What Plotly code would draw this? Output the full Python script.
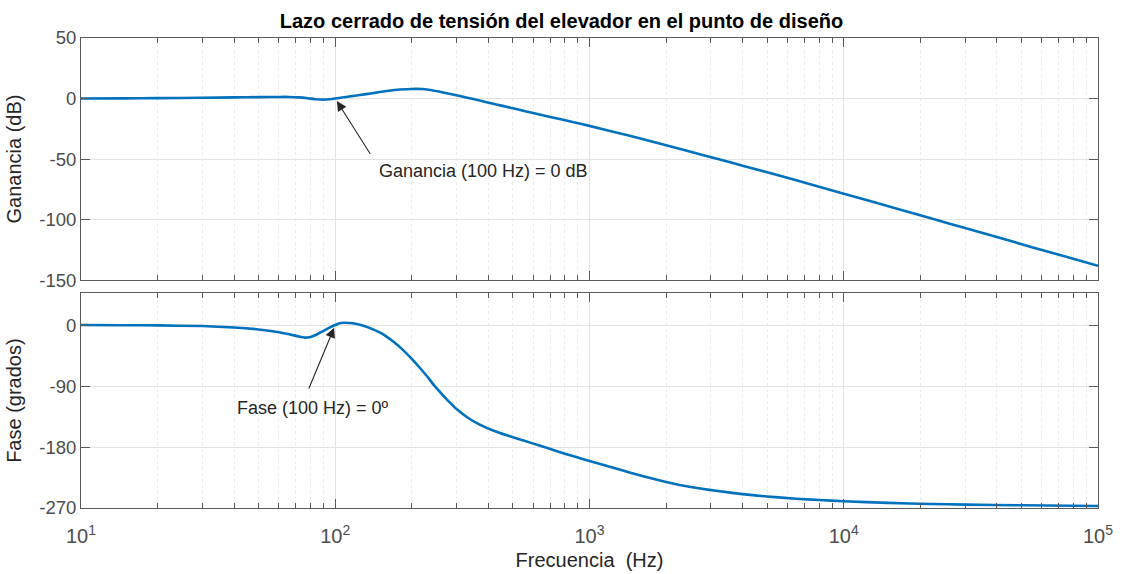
import numpy as np
import plotly.graph_objects as go

# Closed-loop voltage response of the boost converter at the design point
freq_hz = [10, 15, 20, 30, 40, 50, 60, 66, 72, 78, 84, 90, 95, 100, 110, 125, 140, 160,
           180, 200, 220, 240, 260, 290, 330, 370, 410, 460, 520, 600, 700, 850, 1000,
           1250, 1600, 2000, 2500, 3200, 4000, 5000, 6300, 8000, 10000, 13000, 17000,
           22000, 30000, 40000, 55000, 75000, 100000]
gain_db = [0.0, 0.15, 0.3, 0.6, 0.9, 1.15, 1.3, 1.3, 0.9, 0.2, -0.6, -0.95, -0.6, 0.0,
           1.2, 2.9, 4.4, 6.2, 7.4, 7.9, 7.8, 6.9, 5.4, 3.3, 0.7, -1.7, -3.9, -6.3, -8.9,
           -12.0, -15.2, -19.2, -22.6, -27.6, -33.3, -38.6, -44.0, -50.0, -55.5, -61.0,
           -66.8, -72.9, -78.6, -85.4, -92.3, -99.0, -107.0, -114.5, -122.8, -130.8, -138.2]

phase_freq_hz = [10, 15, 20, 30, 40, 50, 60, 66, 72, 76, 80, 85, 90, 95, 100, 104, 108,
                 114, 120, 130, 140, 155, 170, 185, 200, 215, 230, 245, 260, 280, 300,
                 330, 370, 420, 480, 550, 640, 750, 880, 1000, 1250, 1600, 2000, 2500,
                 3200, 4000, 5000, 6500, 8000, 10000, 15000, 22000, 30000, 50000, 100000]
phase_deg = [0.0, -0.2, -0.5, -1.5, -3.5, -6.5, -10.5, -13.5, -17.0, -18.5, -17.5, -13.5,
             -8.5, -3.8, 0.0, 2.5, 3.4, 3.0, 1.8, -1.5, -6.0, -14.0, -25.0, -37.0, -50.0,
             -63.0, -76.0, -89.0, -100.0, -113.0, -124.0, -136.0, -147.0, -156.0, -163.5,
             -170.5, -178.0, -186.5, -194.5, -200.5, -211.0, -222.5, -231.5, -239.0,
             -245.0, -249.5, -253.0, -256.3, -258.3, -260.0, -262.5, -264.0, -265.0,
             -266.0, -267.0]

decades = [10, 100, 1000, 10000, 100000]
decade_labels = ["10<sup>1</sup>", "10<sup>2</sup>", "10<sup>3</sup>", "10<sup>4</sup>", "10<sup>5</sup>"]
minor_vals = [m * d for d in decades[:-1] for m in range(2, 10)]

gain_ticks = [50, 0, -50, -100, -150]
gain_tick_text = ["50", "0", "-50", "-100", "-150"]
phase_ticks = [0, -90, -180, -270]
phase_tick_text = ["0", "-90", "-180", "-270"]

marker_freq = 100
marker_gain = 0
marker_phase = 0

LINE = "#0072BD"
AXIS = "#5a5a5a"
GRID = "#e3e3e3"
MINOR_GRID = "#ececec"
TICK_TXT = "#4d4d4d"
LABEL_TXT = "#262626"
FONT = "Liberation Sans, Arial, sans-serif"

fig = go.Figure()
fig.add_trace(go.Scatter(x=freq_hz, y=gain_db, mode="lines",
                         line=dict(color=LINE, width=2.6, shape="spline", smoothing=0.5),
                         xaxis="x", yaxis="y", showlegend=False))
fig.add_trace(go.Scatter(x=phase_freq_hz, y=phase_deg, mode="lines",
                         line=dict(color=LINE, width=2.6, shape="spline", smoothing=0.5),
                         xaxis="x2", yaxis="y2", showlegend=False))

def xaxis_style(show_labels, anchor):
    return dict(
        type="log", range=[1, 5], anchor=anchor, automargin=False,
        tickmode="array", tickvals=decades, ticktext=decade_labels if show_labels else [""] * 5,
        showticklabels=show_labels, ticklabelstandoff=10,
        ticks="inside", ticklen=9, tickcolor=AXIS, tickwidth=1,
        showline=True, linecolor=AXIS, linewidth=1, mirror="ticks",
        showgrid=True, gridcolor=GRID, gridwidth=1, zeroline=False,
        tickfont=dict(family=FONT, size=20, color=TICK_TXT),
        minor=dict(tickmode="array", tickvals=minor_vals, ticks="inside", ticklen=5,
                   tickcolor=AXIS, tickwidth=1, showgrid=True, gridcolor=MINOR_GRID,
                   griddash="dot", gridwidth=1),
    )

def yaxis_style(rng, ticks, labels, domain, anchor, title):
    return dict(
        range=rng, domain=domain, anchor=anchor, automargin=False,
        tickmode="array", tickvals=ticks, ticktext=labels,
        ticks="inside", ticklen=9, tickcolor=AXIS, tickwidth=1,
        showline=True, linecolor=AXIS, linewidth=1, mirror="ticks",
        showgrid=True, gridcolor=GRID, gridwidth=1, zeroline=False,
        tickfont=dict(family=FONT, size=18.5, color=TICK_TXT),
        title=dict(text=title, font=dict(family=FONT, size=20, color=LABEL_TXT), standoff=12),
    )

fig.update_layout(
    width=1123, height=574,
    margin=dict(l=81, r=25, t=38, b=66),
    paper_bgcolor="white", plot_bgcolor="white",
    font=dict(family=FONT),
    title=dict(text="<b>Lazo cerrado de tensión del elevador en el punto de diseño</b>",
               x=0.5, xanchor="center", y=0.963, yanchor="middle",
               font=dict(family=FONT, size=20, color="#000000")),
    xaxis=xaxis_style(False, "y"),
    xaxis2=dict(**xaxis_style(True, "y2"),
                title=dict(text="Frecuencia  (Hz)", font=dict(family=FONT, size=20, color=LABEL_TXT), standoff=6)),
    yaxis=yaxis_style([-150, 50], gain_ticks, gain_tick_text, [0.485, 1.0], "x", "Ganancia (dB)"),
    yaxis2=yaxis_style([-270, 47], phase_ticks, phase_tick_text, [0.0, 0.457], "x2", "Fase (grados)"),
)

# Arrows pointing at the 100 Hz design point, with their captions
arrow = dict(showarrow=True, arrowhead=2, arrowsize=1.8, arrowwidth=1.1, arrowcolor="#262626", text="")
fig.add_annotation(x=np.log10(marker_freq), y=marker_gain, xref="x", yref="y", ax=36, ay=57, standoff=3, **arrow)
fig.add_annotation(x=np.log10(marker_freq), y=marker_gain, xref="x", yref="y", ax=42, ay=72,
                   text="Ganancia (100 Hz) = 0 dB", showarrow=True, arrowcolor="rgba(0,0,0,0)",
                   xanchor="left", yanchor="middle",
                   font=dict(family=FONT, size=18, color=LABEL_TXT))
fig.add_annotation(x=np.log10(marker_freq), y=marker_phase, xref="x2", yref="y2", ax=-27, ay=65, standoff=3, **arrow)
fig.add_annotation(x=np.log10(marker_freq), y=marker_phase, xref="x2", yref="y2", ax=-22, ay=83,
                   text="Fase (100 Hz) = 0º", showarrow=True, arrowcolor="rgba(0,0,0,0)",
                   xanchor="center", yanchor="middle",
                   font=dict(family=FONT, size=18, color=LABEL_TXT))

fig.write_html("out.html")
